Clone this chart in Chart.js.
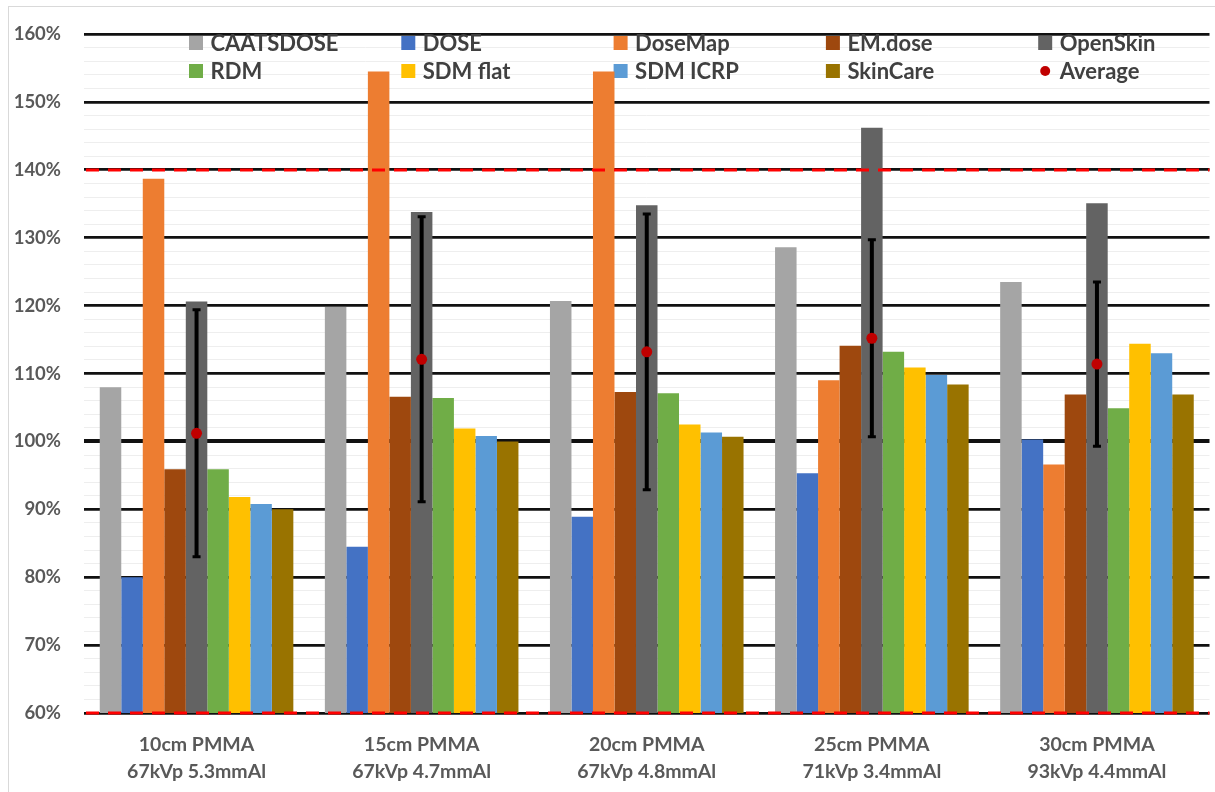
<!DOCTYPE html>
<html>
<head>
<meta charset="utf-8">
<script src="https://cdn.jsdelivr.net/npm/chart.js@4.4.1/dist/chart.umd.min.js"></script>
<style>
  html, body { margin: 0; padding: 0; background: #fff; overflow: hidden; }
  #frame { position: absolute; left: 8px; top: 6px; width: 1230px; height: 810px; border: 1px solid #d9d9d9; }
  #wrap { position: absolute; left: 0; top: 0; width: 1215px; height: 792px; }
</style>
</head>
<body>
<div id="frame"></div>
<div id="wrap"><canvas id="doseChart"></canvas></div>
<script>
// phantom setups (x categories)
const setups = [
    ['10cm PMMA', '67kVp 5.3mmAl'],
    ['15cm PMMA', '67kVp 4.7mmAl'],
    ['20cm PMMA', '67kVp 4.8mmAl'],
    ['25cm PMMA', '71kVp 3.4mmAl'],
    ['30cm PMMA', '93kVp 4.4mmAl']
];

// ratio to reference dose, in %
const caatsdose = [108, 119.8, 120.7, 128.6, 123.5];
const dose      = [80, 84.5, 88.9, 95.3, 100.3];
const doseMap   = [138.7, 154.5, 154.5, 109, 96.6];
const emDose    = [95.9, 106.6, 107.3, 114.1, 106.9];
const openSkin  = [120.6, 133.8, 134.8, 146.2, 135.1];
const rdm       = [95.9, 106.4, 107.1, 113.2, 104.9];
const sdmFlat   = [91.8, 101.9, 102.5, 110.9, 114.4];
const sdmIcrp   = [90.8, 100.8, 101.3, 109.8, 113];
const skinCare  = [90, 100, 100.7, 108.4, 106.9];
const average   = [101.2, 112.1, 113.2, 115.2, 111.4];
const avgError  = [18.2, 21.0, 20.3, 14.5, 12.1];

// tolerance limits (red dashed)
const limits = [140, 60];
const yTicks = [60, 70, 80, 90, 100, 110, 120, 130, 140, 150, 160];

const FONT = 'Lato';

// legend drawn as a 5 x 2 grid, behind the bars
const gridLegend = {
    id: 'gridLegend',
    beforeDatasetsDraw(chart) {
        const ctx = chart.ctx;
        ctx.save();
        ctx.font = 'bold 22px ' + FONT;
        ctx.textBaseline = 'middle';
        chart.data.datasets.forEach((ds, i) => {
            const x = 189 + (i % 5) * 212.3;
            const y = 43 + Math.floor(i / 5) * 28;
            ctx.fillStyle = ds.backgroundColor;
            if (ds.type === 'line') {
                ctx.beginPath();
                ctx.arc(x + 7, y, 5, 0, Math.PI * 2);
                ctx.fill();
            } else {
                ctx.fillRect(x, y - 7, 14, 14);
            }
            ctx.fillStyle = '#404040';
            ctx.fillText(ds.label, x + 21.5, y + 1);
        });
        ctx.restore();
    }
};

// error bars under the average dots
const errorBars = {
    id: 'errorBars',
    beforeDatasetDraw(chart, args) {
        if (chart.data.datasets[args.index].label !== 'Average') return;
        const ctx = chart.ctx;
        const yScale = chart.scales.y;
        ctx.save();
        ctx.strokeStyle = '#000';
        args.meta.data.forEach((pt, i) => {
            const top = yScale.getPixelForValue(average[i] + avgError[i]);
            const bot = yScale.getPixelForValue(average[i] - avgError[i]);
            ctx.lineWidth = 4;
            ctx.beginPath();
            ctx.moveTo(pt.x, top);
            ctx.lineTo(pt.x, bot);
            ctx.stroke();
            ctx.lineWidth = 3;
            ctx.beginPath();
            ctx.moveTo(pt.x - 4, top); ctx.lineTo(pt.x + 4, top);
            ctx.moveTo(pt.x - 4, bot); ctx.lineTo(pt.x + 4, bot);
            ctx.stroke();
        });
        ctx.restore();
    }
};

const limitLines = {
    id: 'limitLines',
    afterDatasetsDraw(chart) {
        const ctx = chart.ctx;
        const area = chart.chartArea;
        ctx.save();
        ctx.strokeStyle = '#ff0000';
        ctx.lineWidth = 3;
        ctx.setLineDash([13, 9]);
        limits.forEach(v => {
            const py = chart.scales.y.getPixelForValue(v);
            ctx.beginPath();
            ctx.moveTo(area.left + 2, py);
            ctx.lineTo(area.right, py);
            ctx.stroke();
        });
        ctx.restore();
    }
};

function bar(label, data, color) {
    return { type: 'bar', label: label, data: data, backgroundColor: color, borderWidth: 0 };
}

const ctx = document.getElementById('doseChart').getContext('2d');

new Chart(ctx, {
    type: 'bar',
    data: {
        labels: setups,
        datasets: [
            bar('CAATSDOSE', caatsdose, '#a5a5a5'),
            bar('DOSE', dose, '#4472c4'),
            bar('DoseMap', doseMap, '#ed7d31'),
            bar('EM.dose', emDose, '#9e480e'),
            bar('OpenSkin', openSkin, '#636363'),
            bar('RDM', rdm, '#70ad47'),
            bar('SDM flat', sdmFlat, '#ffc000'),
            bar('SDM ICRP', sdmIcrp, '#5b9bd5'),
            bar('SkinCare', skinCare, '#997300'),
            {
                type: 'line',
                label: 'Average',
                data: average,
                showLine: false,
                order: -1,
                backgroundColor: '#c00000',
                borderColor: '#c00000',
                pointRadius: 5.5,
                pointBorderWidth: 0
            }
        ]
    },
    options: {
        responsive: true,
        maintainAspectRatio: false,
        animation: false,
        layout: { padding: { top: 20, left: 0, right: 0, bottom: 0 } },
        datasets: { bar: { categoryPercentage: 0.86, barPercentage: 1 } },
        plugins: {
            legend: { display: false },
            tooltip: { enabled: false }
        },
        scales: {
            x: {
                grid: { display: false, drawTicks: false },
                border: { display: false },
                ticks: {
                    color: '#595959',
                    padding: 18,
                    maxRotation: 0,
                    font: { family: FONT, size: 19.5, weight: 'bold', lineHeight: 1.4 }
                },
                afterFit(scale) { scale.height = 79; }
            },
            y: {
                min: 60,
                max: 160,
                grid: {
                    drawTicks: false,
                    color: c => (c.tick.value % 10 === 0 ? '#111' : '#eeeeee'),
                    lineWidth: c => (c.tick.value === 100 ? 4 : (c.tick.value % 10 === 0 ? 2.8 : 1))
                },
                border: { display: false },
                ticks: {
                    stepSize: 2,
                    autoSkip: false,
                    padding: 23,
                    color: '#595959',
                    font: { family: FONT, size: 18.5, weight: 'bold' },
                    callback: v => (yTicks.includes(v) ? v + '%' : '')
                },
                afterFit(scale) { scale.width = 84; }
            }
        }
    },
    plugins: [gridLegend, errorBars, limitLines]
});
</script>
</body>
</html>
